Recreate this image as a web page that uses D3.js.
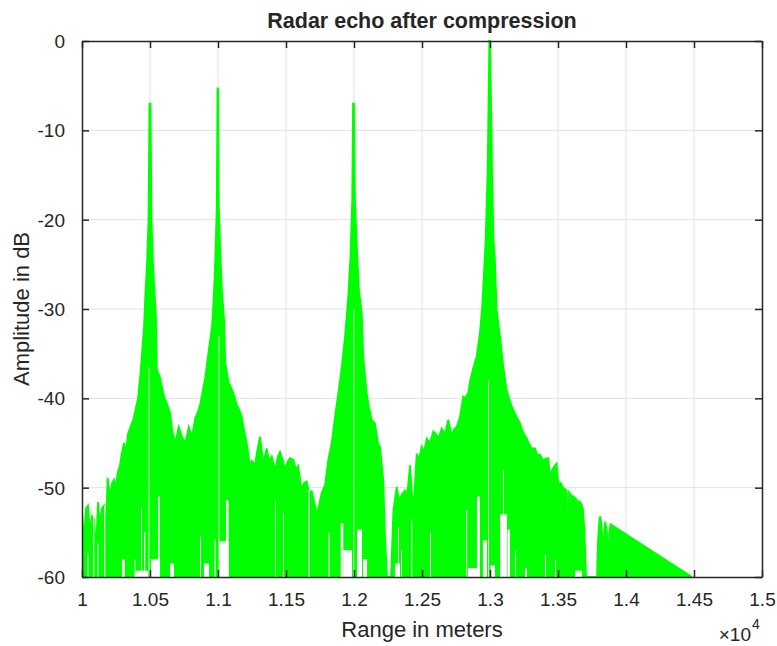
<!DOCTYPE html>
<html><head><meta charset="utf-8">
<script src="https://cdn.jsdelivr.net/npm/d3@7"></script>
<style>body{margin:0;background:#fff}svg{display:block}text{font-family:"Liberation Sans",Arial,Helvetica,sans-serif;fill:#262626}</style>
</head><body>
<script>
// Upper envelope of compressed echo (range in meters, amplitude in dB)
const rangeM = [10000,10015,10029,10044,10059,10074,10088,10103,10118,10132,10147,10162,10176,10188,10206,10221,10235,10250,10261,10279,10294,10309,10324,10338,10357,10375,10393,10412,10430,10441,10456,10467,10478,10489,10496,10504,10511,10522,10533,10544,10551,10570,10588,10607,10625,10649,10662,10686,10711,10735,10760,10785,10809,10833,10853,10870,10890,10907,10932,10956,10971,10980,10991,10996,11001,11006,11018,11029,11044,11054,11079,11088,11113,11138,11154,11174,11191,11211,11235,11250,11272,11287,11309,11333,11358,11375,11395,11419,11441,11456,11478,11493,11515,11529,11554,11574,11590,11615,11632,11652,11669,11689,11706,11726,11743,11762,11787,11811,11836,11860,11885,11910,11934,11958,11974,11987,11993,12000,12007,12024,12037,12057,12068,12093,12110,12130,12154,12179,12191,12215,12228,12243,12272,12283,12290,12314,12331,12351,12375,12390,12412,12436,12461,12478,12498,12515,12535,12559,12583,12603,12620,12645,12669,12693,12718,12735,12755,12779,12803,12816,12840,12853,12877,12902,12926,12943,12968,12983,12995,13001,13015,13026,13035,13049,13074,13098,13123,13140,13160,13171,13196,13221,13233,13250,13270,13282,13307,13331,13346,13368,13390,13404,13429,13441,13456,13478,13490,13502,13522,13537,13564,13574,13581,13603,13609,13615,13636,13643,13651,13662,13674,13684,13695,13706,13787,13794,13805,13812,13824,13833,13840,13848,13860,13870,13877,13886,14485];
const upperDB = [-52.8,-56,-52.3,-52.0,-55,-53.2,-53.5,-57,-51.6,-54,-52.3,-52.0,-55,-48.9,-51,-49.5,-49.1,-50,-48.4,-47.5,-46,-45.0,-46,-44,-43.2,-42.5,-41.3,-40,-37.2,-35,-32.0,-28,-25,-20,-7,-7,-20,-25,-28,-31,-36.8,-37.5,-38.7,-40,-40.6,-41.7,-43.5,-45.0,-43.2,-44.3,-45.0,-43.2,-44.3,-42.2,-41.5,-40.6,-39,-37.6,-34.6,-32.0,-28,-24.5,-18.5,-5.3,-5.3,-18.5,-24,-28,-31,-36.1,-38.3,-38.5,-39.4,-40.7,-41.2,-42.0,-43.5,-45.0,-47.6,-47,-47.5,-46,-44.3,-47.3,-45.6,-47,-46.5,-48.0,-46.5,-46.0,-47,-48.0,-47,-46.7,-46.9,-48,-47.6,-50.3,-49.5,-49.3,-50.5,-50.4,-51.5,-52.9,-52,-50.6,-49.7,-46.9,-45.0,-42.1,-39.4,-36.5,-33.1,-28.6,-24.1,-17.8,-7.0,-7.0,-17.8,-24.1,-28,-30.5,-35.3,-39.4,-41,-42.4,-42.8,-45.2,-45.4,-49.1,-55.5,-60,-60,-55.5,-52.5,-49.9,-51.5,-50.8,-50.3,-51,-47.5,-52.9,-46.2,-46.8,-45.4,-46,-44.5,-45,-43.7,-44,-44.5,-43.4,-44,-42.4,-44.2,-43.5,-43.2,-42.1,-39.8,-40,-39.4,-38.1,-36.6,-35.3,-32.7,-29.7,-22.3,-14.4,0,0,-14.4,-22.3,-24.1,-30.1,-33.1,-36.5,-39.1,-40,-40.9,-41.3,-42.1,-42.8,-43.4,-44,-44.5,-44.9,-45.6,-45.6,-46.3,-46.3,-47,-46.8,-46.7,-48.8,-48,-47.5,-47.3,-49.5,-49.5,-50,-50.3,-60,-50.5,-51,-60,-51.0,-51.3,-60,-51.5,-51.6,-51.9,-52.5,-55,-60,-60,-56,-53.5,-53.2,-55,-60,-55,-53.8,-55,-60,-55,-54.1,-60];

// Regions where the oscillating trace does not reach down (start m, end m, trough dB)
const gapStartM = [10040,10082,10114,10163,10294,10386,10390,10434,10457,10490,10507,10559,10647,10868,10897,10974,11004,11010,11059,11419,11478,11665,11812,11902,11921,11996,12022,12066,12301,12324,12346,12421,12559,12825,12838,12904,12948,12987,13004,13074,13096,13129,13184,13257,13404,13478,13625];
const gapEndM   = [10048,10090,10121,10171,10314,10393,10485,10441,10465,10496,10574,10570,10676,10875,10934,10982,11010,11079,11077,11425,11484,11673,11820,11921,11985,12001,12059,12096,12338,12331,12353,12428,12566,12832,12926,12926,12978,12993,13037,13125,13103,13147,13191,13272,13412,13485,13676];
const gapTopDB  = [-57.3,-53.3,-56.2,-52,-58,-58,-59.3,-52.3,-55,-36.5,-58,-51,-58.5,-55.5,-58.5,-55.8,-33,-56,-51.4,-51.4,-52.9,-50.3,-55,-54,-57,-30,-54.7,-58,-58.5,-54.4,-57,-53.6,-55,-52.5,-59,-51,-55.9,-38,-58.7,-53,-48,-54.7,-57,-59,-57.5,-58,-59.3];

const xTickValues = [10000,10500,11000,11500,12000,12500,13000,13500,14000,14500,15000];
const xTickLabels = ["1","1.05","1.1","1.15","1.2","1.25","1.3","1.35","1.4","1.45","1.5"];
const yTickValues = [0,-10,-20,-30,-40,-50,-60];
const yTickLabels = ["0","-10","-20","-30","-40","-50","-60"];

const W = 777, H = 646;
const m = {left: 82, top: 41, right: 15, bottom: 69};
const pw = W - m.left - m.right, ph = H - m.top - m.bottom;

const svg = d3.select("body").append("svg").attr("width", W).attr("height", H);
const x = d3.scaleLinear().domain([10000, 15000]).range([0, pw]);
const y = d3.scaleLinear().domain([-60, 0]).range([ph, 0]);

const g = svg.append("g").attr("transform", `translate(${m.left},${m.top})`);
const defs = svg.append("defs");
defs.append("clipPath").attr("id", "clip").append("rect").attr("width", pw).attr("height", ph + 1).attr("y", -1);
const mask = defs.append("mask").attr("id", "gapmask").attr("maskUnits", "userSpaceOnUse")
  .attr("x", -5).attr("y", -5).attr("width", pw + 10).attr("height", ph + 10);
mask.append("rect").attr("x", -5).attr("y", -5).attr("width", pw + 10).attr("height", ph + 10).attr("fill", "#fff");
gapStartM.forEach((s, i) => {
  mask.append("rect").attr("x", x(s)).attr("width", Math.max(0.8, x(gapEndM[i]) - x(s)))
    .attr("y", y(gapTopDB[i])).attr("height", y(-60) - y(gapTopDB[i]) + 3).attr("fill", "#000");
});

// grid
g.append("g").selectAll("line").data(xTickValues.slice(1, -1)).join("line")
  .attr("x1", d => x(d)).attr("x2", d => x(d)).attr("y1", 0).attr("y2", ph)
  .attr("stroke", "#e2e2e2").attr("stroke-width", 1);
g.append("g").selectAll("line").data(yTickValues.slice(1, -1)).join("line")
  .attr("y1", d => y(d)).attr("y2", d => y(d)).attr("x1", 0).attr("x2", pw)
  .attr("stroke", "#e2e2e2").attr("stroke-width", 1);

const pts = rangeM.map((r, i) => ({r, v: upperDB[i]}));
const plot = g.append("g").attr("clip-path", "url(#clip)");
const inner = plot.append("g").attr("mask", "url(#gapmask)");
inner.append("path").datum(pts)
  .attr("d", d3.area().x(d => x(d.r)).y0(y(-60)).y1(d => y(d.v)))
  .attr("fill", "#00ff00");
inner.append("path").datum(pts)
  .attr("d", d3.line().x(d => x(d.r)).y(d => y(d.v)))
  .attr("fill", "none").attr("stroke", "#00ff00").attr("stroke-width", 1.8).attr("stroke-linejoin", "miter");

// axes
const ax = "#262626";
const xb = g.append("g").attr("transform", `translate(0,${ph})`)
  .call(d3.axisBottom(x).tickValues(xTickValues).tickFormat((d, i) => xTickLabels[i]).tickSizeInner(-7).tickSizeOuter(0).tickPadding(16));
const xt = g.append("g").call(d3.axisTop(x).tickValues(xTickValues).tickFormat("").tickSizeInner(-7).tickSizeOuter(0));
const yl = g.append("g").call(d3.axisLeft(y).tickValues(yTickValues).tickFormat((d, i) => yTickLabels[i]).tickSizeInner(-7).tickSizeOuter(0).tickPadding(17));
const yr = g.append("g").attr("transform", `translate(${pw},0)`).call(d3.axisRight(y).tickValues(yTickValues).tickFormat("").tickSizeInner(-7).tickSizeOuter(0));
[xb, xt, yl, yr].forEach(a => {
  a.selectAll(".domain").attr("stroke", ax).attr("stroke-width", 1.5);
  a.selectAll(".tick line").attr("stroke", ax).attr("stroke-width", 1.5);
  a.selectAll("text").style("font-size", "19px").attr("fill", ax);
});
yl.selectAll("text").attr("dy", "0.35em");

// labels
svg.append("text").attr("x", m.left + pw / 2).attr("y", 28).attr("text-anchor", "middle")
  .style("font-size", "21.5px").style("font-weight", "bold").attr("fill", "#000").text("Radar echo after compression");
svg.append("text").attr("x", m.left + pw / 2).attr("y", 637).attr("text-anchor", "middle")
  .style("font-size", "22px").text("Range in meters");
svg.append("text").attr("transform", `translate(29,${m.top + ph / 2}) rotate(-90)`).attr("text-anchor", "middle")
  .style("font-size", "22px").text("Amplitude in dB");
svg.append("text").attr("x", 751).attr("y", 641).attr("text-anchor", "end").style("font-size", "19px").text("\u00d710");
svg.append("text").attr("x", 752).attr("y", 629).style("font-size", "14px").text("4");
</script>
</body></html>
